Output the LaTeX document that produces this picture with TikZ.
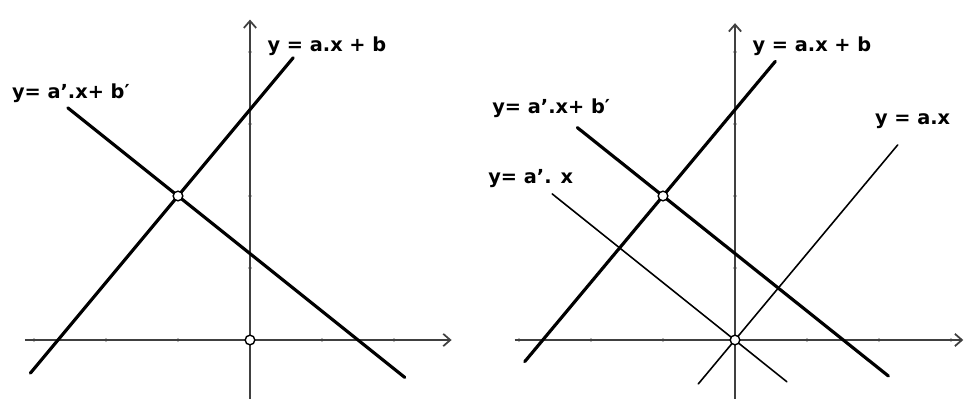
\documentclass[tikz,border=0pt]{standalone}
\usepackage{fontspec}
\setmainfont{DejaVu Sans}
\usetikzlibrary{arrows.meta}

\begin{document}
\begin{tikzpicture}[x=1.44cm, y=1.44cm,
    axisline/.style={line width=1pt, draw=black!75, -{Straight Barb[length=4pt, width=7pt]}},
    boldline/.style={line width=1.8pt, line cap=round},
    thinline/.style={line width=0.9pt, line cap=round},
    tick/.style={line width=0.6pt, draw=black!25},
    dot/.style={circle, draw, fill=white, line width=0.8pt, inner sep=0pt, minimum size=5.5pt},
    eqlabel/.style={font=\fontsize{11}{13}\selectfont\bfseries, inner sep=0pt, anchor=base west}]
    \useasboundingbox (-3.472, -0.819) rectangle (9.944, 4.722);

    % left: two lines meeting in one point
    \foreach \t in {-3,-2,-1,1,2} \draw[tick] (\t,-0.03) -- (\t,0.03);
    \foreach \t in {1,...,4} \draw[tick] (-0.03,\t) -- (0.03,\t);
    \draw[axisline] (-3.125,0) -- (2.8,0);
    \draw[axisline] (0,-0.819) -- (0,4.45);

    \draw[boldline] (-3.05,-0.46) -- (0.6,3.92);
    \draw[boldline] (-2.53,3.224) -- (2.15,-0.52);

    \node[dot] (inter) at (-1,2) {};
    \node[dot] (origin) at (0,0) {};

    \node[eqlabel] (lineab) at (0.24,4.0) {y = a.x + b};
    \node[eqlabel] (lineabp) at (-3.31,3.36) {y= a'.x+ b′};

    % right: the same lines and their parallels through the origin
    \begin{scope}[shift={(6.736,0)}]
        \foreach \t in {-3,-2,-1,1,2,3} \draw[tick] (\t,-0.03) -- (\t,0.03);
        \foreach \t in {1,...,4} \draw[tick] (-0.03,\t) -- (0.03,\t);
        \draw[axisline] (-3.06,0) -- (3.17,0);
        \draw[axisline] (0,-0.819) -- (0,4.4);

        \draw[boldline] (-2.92,-0.30) -- (0.56,3.87);
        \draw[boldline] (-2.19,2.95) -- (2.13,-0.50);
        \draw[thinline] (-0.51,-0.61) -- (2.26,2.71);
        \draw[thinline] (-2.54,2.03) -- (0.72,-0.58);

        \node[dot] (rinter) at (-1,2) {};
        \node[dot] (rorigin) at (0,0) {};

        \node[eqlabel] (rlineab) at (0.24,4.0) {y = a.x + b};
        \node[eqlabel] (rlineabp) at (-3.375,3.15) {y= a'.x+ b′};
        \node[eqlabel] (rlinea) at (1.94,2.99) {y = a.x};
        \node[eqlabel] (rlineap) at (-3.43,2.18) {y= a'. x};
    \end{scope}
\end{tikzpicture}
\end{document}
